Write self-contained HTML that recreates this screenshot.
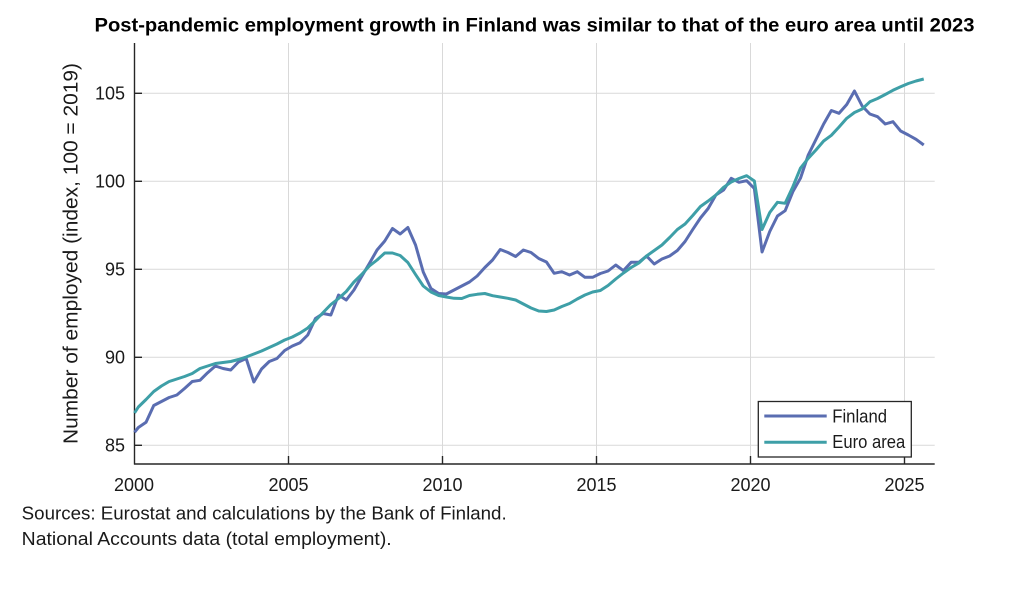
<!DOCTYPE html>
<html>
<head>
<meta charset="utf-8">
<style>
html,body{margin:0;padding:0;background:#fff;}
svg{display:block;}
text{font-family:"Liberation Sans",sans-serif;fill:#1a1a1a;}
</style>
</head>
<body>
<svg width="1033" height="591" viewBox="0 0 1033 591" xmlns="http://www.w3.org/2000/svg">
<rect width="1033" height="591" fill="#fff"/>
<text x="534.5" y="31.5" text-anchor="middle" font-size="19" font-weight="bold" textLength="880" lengthAdjust="spacingAndGlyphs" style="fill:#000">Post-pandemic employment growth in Finland was similar to that of the euro area until 2023</text>

<!-- gridlines -->
<g stroke="#d9d9d9" stroke-width="1">
<line x1="134.5" y1="93.3" x2="934.7" y2="93.3"/>
<line x1="134.5" y1="181.3" x2="934.7" y2="181.3"/>
<line x1="134.5" y1="269.3" x2="934.7" y2="269.3"/>
<line x1="134.5" y1="357.3" x2="934.7" y2="357.3"/>
<line x1="134.5" y1="445.3" x2="934.7" y2="445.3"/>
<line x1="288.5" y1="43" x2="288.5" y2="464"/>
<line x1="442.5" y1="43" x2="442.5" y2="464"/>
<line x1="596.5" y1="43" x2="596.5" y2="464"/>
<line x1="750.5" y1="43" x2="750.5" y2="464"/>
<line x1="904.5" y1="43" x2="904.5" y2="464"/>
</g>

<!-- axes -->
<g stroke="#262626" stroke-width="1.4" fill="none">
<line x1="134.5" y1="43" x2="134.5" y2="464.5"/>
<line x1="134" y1="464" x2="934.7" y2="464"/>
<line x1="134.5" y1="93.3" x2="142" y2="93.3"/>
<line x1="134.5" y1="181.3" x2="142" y2="181.3"/>
<line x1="134.5" y1="269.3" x2="142" y2="269.3"/>
<line x1="134.5" y1="357.3" x2="142" y2="357.3"/>
<line x1="134.5" y1="445.3" x2="142" y2="445.3"/>
<line x1="288.5" y1="464" x2="288.5" y2="456"/>
<line x1="442.5" y1="464" x2="442.5" y2="456"/>
<line x1="596.5" y1="464" x2="596.5" y2="456"/>
<line x1="750.5" y1="464" x2="750.5" y2="456"/>
<line x1="904.5" y1="464" x2="904.5" y2="456"/>
</g>

<!-- y tick labels -->
<g font-size="18" text-anchor="end">
<text x="125" y="99.5">105</text>
<text x="125" y="187.5">100</text>
<text x="125" y="275.5">95</text>
<text x="125" y="363.5">90</text>
<text x="125" y="451.5">85</text>
</g>
<!-- x tick labels -->
<g font-size="18" text-anchor="middle">
<text x="134" y="491">2000</text>
<text x="288.5" y="491">2005</text>
<text x="442.5" y="491">2010</text>
<text x="596.5" y="491">2015</text>
<text x="750.5" y="491">2020</text>
<text x="904.5" y="491">2025</text>
</g>

<text transform="translate(77.5,253.5) rotate(-90)" text-anchor="middle" font-size="20" textLength="381" lengthAdjust="spacingAndGlyphs">Number of employed (index, 100 = 2019)</text>

<!-- Finland -->
<polyline fill="none" stroke="#5a6db1" stroke-width="3" stroke-linejoin="round" points="134.5,432.3 138.35,427.5 146.05,422.3 153.75,405.5 161.45,401.5 169.15,397.5 176.85,395 184.55,388.5 192.25,381.5 199.95,380.3 207.65,372.7 215.35,366 223.05,368.5 230.75,370 238.45,362 246.15,358.5 253.85,382 261.55,369 269.25,361.5 276.95,358.5 284.65,350.5 292.35,346 300.05,342.7 307.75,335 315.45,318.5 323.15,313.5 330.85,315 338.55,295 346.25,300 353.95,290 361.65,276.5 369.35,263.5 377.05,250 384.75,241 392.45,228.5 400.15,234 407.85,227.5 415.55,245 423.25,272 430.95,288.5 438.65,293.5 446.35,294 454.05,290 461.75,286 469.45,282 477.15,276 484.85,267.5 492.55,260 500.25,249.5 507.95,252.5 515.65,256.5 523.35,250 531.05,252.5 538.75,258.5 546.45,262 554.15,273.3 561.85,271.7 569.55,275 577.25,271.7 584.95,277.3 592.65,277.3 600.35,273.5 608.05,271 615.75,265 623.45,270.7 631.15,262.3 638.85,262.3 646.55,256 654.25,264 661.95,259 669.65,256 677.35,250.5 685.05,241.5 692.75,229.5 700.45,218 708.15,208.5 715.85,195 723.55,190 731.25,178.3 738.95,182.3 746.65,180.7 754.35,188.5 762.05,252 769.75,231.5 777.45,216 785.15,210.7 792.85,191.7 800.55,178 808.25,155 815.95,139.5 823.65,124 831.35,110.5 839.05,113.3 846.75,104.5 854.45,91 862.15,106 869.85,114 877.55,116.7 885.25,124 892.95,121.7 900.65,131 908.35,135 916.05,139.3 923.75,145"/>

<!-- Euro area -->
<polyline fill="none" stroke="#3e9fa7" stroke-width="3" stroke-linejoin="round" points="134.5,413 138.35,407 146.05,399.5 153.75,391.5 161.45,386 169.15,381.5 176.85,379 184.55,376.5 192.25,373.5 199.95,368.5 207.65,366 215.35,363.5 223.05,362.5 230.75,361.5 238.45,359.5 246.15,357 253.85,354 261.55,351 269.25,347.5 276.95,344 284.65,340 292.35,337 300.05,333 307.75,328 315.45,320.5 323.15,312.5 330.85,304.5 338.55,298.5 346.25,291.5 353.95,282 361.65,274.5 369.35,266 377.05,260 384.75,253 392.45,253 400.15,255.5 407.85,262.5 415.55,274.5 423.25,286 430.95,292 438.65,295.5 446.35,297 454.05,298.3 461.75,298.5 469.45,295.5 477.15,294.3 484.85,293.5 492.55,295.7 500.25,297 507.95,298.3 515.65,300 523.35,304 531.05,308 538.75,311 546.45,311.5 554.15,310 561.85,306.5 569.55,303.5 577.25,299 584.95,295 592.65,292 600.35,290.5 608.05,285.5 615.75,279 623.45,273 631.15,267.5 638.85,263 646.55,256 654.25,250.5 661.95,245 669.65,237.5 677.35,229.5 685.05,224 692.75,215.5 700.45,206.5 708.15,201 715.85,195 723.55,187.3 731.25,182 738.95,178.5 746.65,175.7 754.35,181 762.05,229.5 769.75,212.5 777.45,202.3 785.15,203.3 792.85,186.7 800.55,168 808.25,158.3 815.95,150 823.65,141 831.35,135.3 839.05,127 846.75,118.3 854.45,112.5 862.15,109 869.85,101.8 877.55,98.5 885.25,94.5 892.95,90.3 900.65,86.8 908.35,83.5 916.05,81 923.75,79"/>

<!-- legend -->
<rect x="758.3" y="401.5" width="153" height="55.5" fill="#fff" stroke="#262626" stroke-width="1.3"/>
<line x1="764.3" y1="416" x2="826.7" y2="416" stroke="#5a6db1" stroke-width="3"/>
<line x1="764.3" y1="442.3" x2="826.7" y2="442.3" stroke="#3e9fa7" stroke-width="3"/>
<text x="832.3" y="422.3" font-size="18" textLength="54.7" lengthAdjust="spacingAndGlyphs">Finland</text>
<text x="832.3" y="447.8" font-size="18" textLength="73" lengthAdjust="spacingAndGlyphs">Euro area</text>

<!-- sources -->
<text x="21.7" y="519.3" font-size="18" textLength="485" lengthAdjust="spacingAndGlyphs">Sources: Eurostat and calculations by the Bank of Finland.</text>
<text x="21.7" y="545" font-size="18" textLength="370" lengthAdjust="spacingAndGlyphs">National Accounts data (total employment).</text>
</svg>
</body>
</html>
